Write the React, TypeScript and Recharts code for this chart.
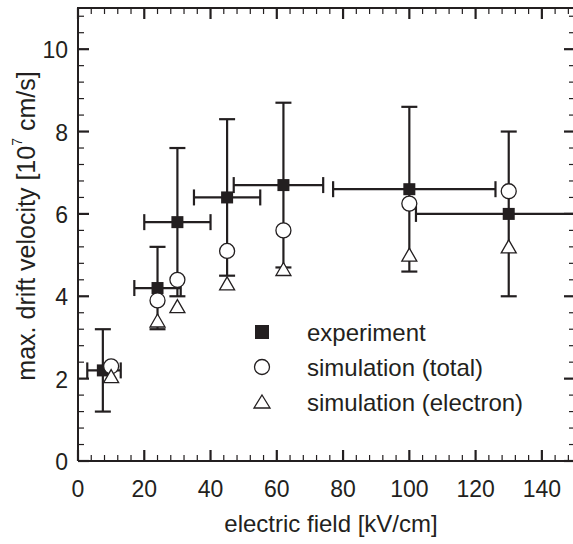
import { ScatterChart, Scatter, XAxis, YAxis, ErrorBar, Legend } from 'recharts'

const INK = '#231f20'
const FONT = '"Liberation Sans", Arial, Helvetica, sans-serif'

// experiment (filled squares) with error ranges
const expX = [7.5, 24, 30, 45, 62, 100, 130]
const expY = [2.2, 4.2, 5.8, 6.4, 6.7, 6.6, 6.0]
const expXLow = [2.8, 17, 20, 35, 47, 77, 102]
const expXHigh = [12.9, 31, 40, 55, 74, 126, 158]
const expYLow = [1.2, 3.2, 4.0, 4.5, 4.7, 4.6, 4.0]
const expYHigh = [3.2, 5.2, 7.6, 8.3, 8.7, 8.6, 8.0]

// simulations
const simX = [10, 24, 30, 45, 62, 100, 130]
const simTotal = [2.3, 3.9, 4.4, 5.1, 5.6, 6.25, 6.55]
const simElectron = [2.05, 3.4, 3.75, 4.3, 4.65, 5.0, 5.2]

const legendLabels = ['experiment', 'simulation (total)', 'simulation (electron)']

const xMajor = [0, 20, 40, 60, 80, 100, 120, 140]
const yMajor = [0, 2, 4, 6, 8, 10]

// minor ticks every 4 kV/cm and every 0.4
const xTicks: number[] = []
for (let v = 0; v <= 148; v += 4) xTicks.push(v)
const yTicks: number[] = []
for (let i = 0; i <= 27; i++) yTicks.push(Math.round(i * 4) / 10)

const expData = expX.map((x, i) => ({
  x,
  y: expY[i],
  ex: [x - expXLow[i], expXHigh[i] - x],
  ey: [expY[i] - expYLow[i], expYHigh[i] - expY[i]],
}))
const totalData = simX.map((x, i) => ({ x, y: simTotal[i] }))
const electronData = simX.map((x, i) => ({ x, y: simElectron[i] }))

const W = 576
const H = 544
const MARGIN = { top: 8, right: 1, bottom: 0, left: 0 }
const Y_AXIS_W = 78
const X_AXIS_H = 83
const PLOT_LEFT = MARGIN.left + Y_AXIS_W
const PLOT_TOP = MARGIN.top
const PLOT_RIGHT = W - MARGIN.right
const PLOT_BOTTOM = H - MARGIN.bottom - X_AXIS_H
const X_MAX = 150
const Y_MAX = 11

const MAJOR = 11
const MINOR = 6

function tickLine(key: string, x1: number, y1: number, x2: number, y2: number, major: boolean) {
  return <line key={key} x1={x1} y1={y1} x2={x2} y2={y2} stroke={INK} strokeWidth={major ? 2.2 : 1.2} />
}

const XTick = ({ x, y, payload }: any) => {
  const major = xMajor.includes(payload.value)
  return (
    <g>
      {tickLine('b', x, y, x, y - (major ? MAJOR : MINOR), major)}
      {major && (
        <text x={x} y={y + 28} textAnchor="middle" dominantBaseline="central" fontSize={23} fontFamily={FONT} fill={INK}>
          {payload.value}
        </text>
      )}
    </g>
  )
}

const YTick = ({ x, y, payload }: any) => {
  const major = yMajor.includes(payload.value)
  return (
    <g>
      {tickLine('l', x, y, x + (major ? MAJOR : MINOR), y, major)}
      {major && (
        <text x={x - 10} y={y + 1} textAnchor="end" dominantBaseline="central" fontSize={23} fontFamily={FONT} fill={INK}>
          {payload.value}
        </text>
      )}
    </g>
  )
}

// top and right frame with inward ticks, same linear mapping as the chart's plot box
const Frame = () => {
  const sx = (v: number) => PLOT_LEFT + (v / X_MAX) * (PLOT_RIGHT - PLOT_LEFT)
  const sy = (v: number) => PLOT_BOTTOM - (v / Y_MAX) * (PLOT_BOTTOM - PLOT_TOP)
  return (
    <svg
      width={W}
      height={H}
      style={{ position: 'absolute', left: 0, top: 0, pointerEvents: 'none', zIndex: 5 }}
    >
      <line x1={PLOT_LEFT - 1} y1={PLOT_TOP} x2={PLOT_RIGHT} y2={PLOT_TOP} stroke={INK} strokeWidth={2} />
      <line x1={PLOT_RIGHT} y1={PLOT_TOP} x2={PLOT_RIGHT} y2={PLOT_BOTTOM} stroke={INK} strokeWidth={2} />
      {xTicks.map((v) => {
        const major = xMajor.includes(v)
        return tickLine('t' + v, sx(v), PLOT_TOP, sx(v), PLOT_TOP + (major ? MAJOR : MINOR), major)
      })}
      {yTicks.map((v) => {
        const major = yMajor.includes(v)
        return tickLine('r' + v, PLOT_RIGHT, sy(v), PLOT_RIGHT - (major ? MAJOR : MINOR), sy(v), major)
      })}
    </svg>
  )
}

const SquareDot = (p: any) => <rect x={p.cx - 6} y={p.cy - 6} width={12} height={12} fill={INK} />
const CircleDot = (p: any) => <circle cx={p.cx} cy={p.cy} r={7.5} fill="#fff" stroke={INK} strokeWidth={1.3} />
const TriangleDot = (p: any) => (
  <path
    d={`M${p.cx},${p.cy - 7} L${p.cx + 7.5},${p.cy + 6} L${p.cx - 7.5},${p.cy + 6} Z`}
    fill="#fff"
    stroke={INK}
    strokeWidth={1.3}
  />
)

const LegendBox = () => {
  const rows = [18, 53, 88]
  return (
    <svg width={300} height={110} style={{ overflow: 'visible' }}>
      <rect x={5} y={rows[0] - 7} width={14} height={14} fill={INK} />
      <circle cx={12} cy={rows[1]} r={7.5} fill="#fff" stroke={INK} strokeWidth={1.3} />
      <path d={`M12,${rows[2] - 7} L20,${rows[2] + 6} L4,${rows[2] + 6} Z`} fill="#fff" stroke={INK} strokeWidth={1.3} />
      {legendLabels.map((t, i) => (
        <text key={t} x={57} y={rows[i]} dominantBaseline="central" fontSize={24} fontFamily={FONT} fill={INK}>
          {t}
        </text>
      ))}
    </svg>
  )
}

const XTitle = () => (
  <text x={331} y={532} textAnchor="middle" fontSize={24} fontFamily={FONT} fill={INK}>
    electric field [kV/cm]
  </text>
)

const YTitle = () => (
  <text
    x={26}
    y={226}
    transform="rotate(-90, 26, 226)"
    textAnchor="middle"
    dominantBaseline="central"
    fontSize={25}
    fontFamily={FONT}
    fill={INK}
  >
    max. drift velocity [10
    <tspan dy={-9} fontSize={14}>7</tspan>
    <tspan dy={9}> cm/s]</tspan>
  </text>
)

export default function App() {
  return (
    <div style={{ position: 'absolute', left: 0, top: 0, width: 573, height: H, overflow: 'hidden', background: '#fff' }}>
      <ScatterChart width={W} height={H} margin={MARGIN}>
        <XAxis
          dataKey="x"
          type="number"
          domain={[0, X_MAX]}
          allowDataOverflow
          ticks={xTicks}
          interval={0}
          tickSize={0}
          tickMargin={0}
          tick={<XTick />}
          axisLine={{ stroke: INK, strokeWidth: 2 }}
          height={X_AXIS_H}
          label={XTitle}
        />
        <YAxis
          dataKey="y"
          type="number"
          domain={[0, Y_MAX]}
          allowDataOverflow
          ticks={yTicks}
          interval={0}
          tickSize={0}
          tickMargin={0}
          tick={<YTick />}
          axisLine={{ stroke: INK, strokeWidth: 2 }}
          width={Y_AXIS_W}
          label={YTitle}
        />
        <Legend
          layout="vertical"
          align="center"
          verticalAlign="middle"
          content={<LegendBox />}
          wrapperStyle={{ position: 'absolute', left: 250, top: 314, width: 300, height: 110 }}
        />
        <Scatter name={legendLabels[0]} data={expData} shape={SquareDot} isAnimationActive={false}>
          <ErrorBar dataKey="ex" direction="x" width={8} stroke={INK} strokeWidth={2.2} />
          <ErrorBar dataKey="ey" direction="y" width={8} stroke={INK} strokeWidth={2.2} />
        </Scatter>
        <Scatter name={legendLabels[1]} data={totalData} shape={CircleDot} isAnimationActive={false} />
        <Scatter name={legendLabels[2]} data={electronData} shape={TriangleDot} isAnimationActive={false} />
      </ScatterChart>
      <Frame />
    </div>
  )
}
